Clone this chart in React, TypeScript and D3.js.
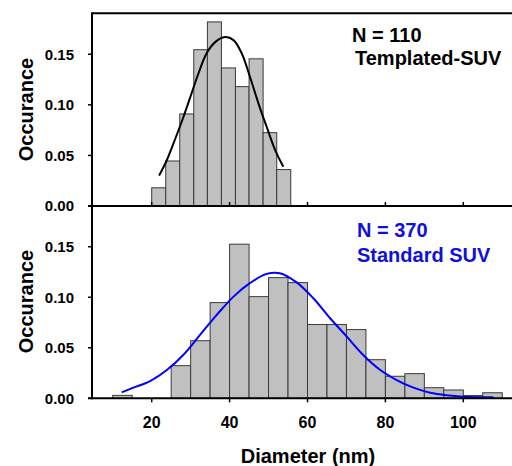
import React from "react";
import * as d3 from "d3";

// ---- Data ----
// Top panel: Templated-SUV, N = 110
const topBinEdges = [20, 23.6, 27.2, 30.8, 34.3, 37.9, 41.5, 45.0, 48.6, 52.1, 55.7];
const topValues = [0.018, 0.0445, 0.091, 0.1545, 0.182, 0.1365, 0.118, 0.1455, 0.0725, 0.036];
const topCurveX = [21.9, 23.9, 25.6, 27.7, 29.8, 32.0, 34.1, 36.3, 38.8, 41.0, 43.1, 45.2, 47.4, 49.5, 51.7, 53.8];
const topCurveY = [0.03, 0.0455, 0.062, 0.0833, 0.1064, 0.131, 0.151, 0.162, 0.167, 0.164, 0.151, 0.128, 0.1015, 0.0784, 0.0553, 0.0388];

// Bottom panel: Standard SUV, N = 370
const bottomBinStarts = [10, 15, 20, 25, 30, 35, 40, 45, 50, 55, 60, 65, 70, 75, 80, 85, 90, 95, 100, 105];
const bottomValues = [0.0029, 0, 0, 0.0323, 0.057, 0.0947, 0.1525, 0.1006, 0.1194, 0.1145, 0.073, 0.073, 0.068, 0.0382, 0.0218, 0.0244, 0.0105, 0.0082, 0.0027, 0.0055];
const bottomBinWidth = 5;
const bottomCurveX = [12.3, 15.3, 19.6, 23.9, 28.1, 32.4, 36.7, 41.0, 45.2, 49.5, 52.9, 57.2, 61.5, 65.8, 70.1, 74.3, 78.7, 82.9, 87.2, 91.5, 95.7, 100.0, 107.7];
const bottomCurveY = [0.0059, 0.0105, 0.0171, 0.028, 0.0429, 0.0627, 0.0825, 0.1006, 0.1139, 0.1231, 0.1238, 0.1147, 0.099, 0.0792, 0.061, 0.0429, 0.028, 0.0181, 0.0105, 0.0055, 0.003, 0.0016, 0.001];

const xTicks = [20, 40, 60, 80, 100];
const yTicks = [0, 0.05, 0.1, 0.15];
const yTickLabels = ["0.00", "0.05", "0.10", "0.15"];

const FONT = "'Liberation Sans', Arial, sans-serif";

export default function App() {
  const W = 512;
  const H = 466;
  const left = 92;
  const right = 512;

  const x = d3.scaleLinear().domain([20, 100]).range([151.7, 463.3]);
  const yTop = d3.scaleLinear().domain([0, 0.19]).range([206, 13.8]);
  const yBot = d3.scaleLinear().domain([0, 0.19]).range([398.3, 206.3]);

  const topTopY = 13.3;
  const midY = 206;
  const botY = 398.3;

  const topLine = d3
    .line<number>()
    .x((_, i) => x(topCurveX[i]))
    .y((d) => yTop(d))
    .curve(d3.curveCatmullRom.alpha(0.5));
  const botLine = d3
    .line<number>()
    .x((_, i) => x(bottomCurveX[i]))
    .y((d) => yBot(d))
    .curve(d3.curveCatmullRom.alpha(0.5));

  const barFill = "#c0c0c0";
  const barStroke = "#3a3a3a";

  return (
    <svg width={W} height={H} style={{ display: "block", position: "absolute", left: 0, top: 0 }}>
      <rect x={0} y={0} width={W} height={H} fill="#ffffff" />
      {/* Top bars */}
      <g>
        {topValues.map((v, i) => (
          <rect
            key={"tb" + i}
            x={x(topBinEdges[i])}
            y={yTop(v)}
            width={x(topBinEdges[i + 1]) - x(topBinEdges[i])}
            height={yTop(0) - yTop(v)}
            fill={barFill}
            stroke={barStroke}
            strokeWidth={1}
          />
        ))}
      </g>
      {/* Bottom bars */}
      <g>
        {bottomValues.map((v, i) =>
          v > 0 ? (
            <rect
              key={"bb" + i}
              x={x(bottomBinStarts[i])}
              y={yBot(v)}
              width={x(bottomBinStarts[i] + bottomBinWidth) - x(bottomBinStarts[i])}
              height={yBot(0) - yBot(v)}
              fill={barFill}
              stroke={barStroke}
              strokeWidth={1}
            />
          ) : null
        )}
      </g>
      {/* Curves */}
      <path d={topLine(topCurveY) || ""} fill="none" stroke="#000000" strokeWidth={2} />
      <path d={botLine(bottomCurveY) || ""} fill="none" stroke="#0000ff" strokeWidth={2} />

      {/* Frames */}
      <g stroke="#000" strokeWidth={2} fill="none">
        <line x1={left} y1={topTopY} x2={right} y2={topTopY} />
        <line x1={left} y1={topTopY - 1} x2={left} y2={botY + 1} />
        <line x1={left - 4} y1={midY} x2={right} y2={midY} />
        <line x1={left - 4} y1={botY} x2={right} y2={botY} />
      </g>
      {/* Y ticks */}
      <g stroke="#000" strokeWidth={1.5}>
        {yTicks.map((t, i) => (
          <line key={"yt" + i} x1={left - 4} x2={left} y1={yTop(t)} y2={yTop(t)} />
        ))}
        {yTicks.map((t, i) => (
          <line key={"yb" + i} x1={left - 4} x2={left} y1={yBot(t)} y2={yBot(t)} />
        ))}
        {xTicks.map((t, i) => (
          <line key={"xt" + i} x1={x(t)} x2={x(t)} y1={midY} y2={midY - 4} />
        ))}
        {xTicks.map((t, i) => (
          <line key={"xb" + i} x1={x(t)} x2={x(t)} y1={botY} y2={botY + 4} />
        ))}
      </g>
      {/* Y tick labels */}
      <g fontFamily={FONT} fontWeight="bold" fontSize={15} fill="#000" textAnchor="end">
        {yTicks.map((t, i) => (
          <text key={"ylt" + i} x={74} y={yTop(t)} dy="0.36em">
            {yTickLabels[i]}
          </text>
        ))}
        {yTicks.map((t, i) => (
          <text key={"ylb" + i} x={74} y={yBot(t)} dy="0.36em">
            {yTickLabels[i]}
          </text>
        ))}
      </g>
      {/* X tick labels */}
      <g fontFamily={FONT} fontWeight="bold" fontSize={16} fill="#000" textAnchor="middle">
        {xTicks.map((t, i) => (
          <text key={"xl" + i} x={x(t)} y={427.5}>
            {String(t)}
          </text>
        ))}
      </g>
      {/* Axis labels */}
      <g fontFamily={FONT} fontWeight="bold" fontSize={20} fill="#000" textAnchor="middle">
        <text transform="translate(33,109.5) rotate(-90)">Occurance</text>
        <text transform="translate(33,301.5) rotate(-90)">Occurance</text>
        <text x={308} y={462.7}>Diameter (nm)</text>
      </g>
      {/* Annotations */}
      <g fontFamily={FONT} fontWeight="bold" fontSize={20}>
        <text x={352} y={42.3} fill="#000">N = 110</text>
        <text x={355} y={65} fill="#000">Templated-SUV</text>
        <text x={357} y={237.3} fill="#1010dd">N = 370</text>
        <text x={357} y={261.7} fill="#1010dd">Standard SUV</text>
      </g>
    </svg>
  );
}
